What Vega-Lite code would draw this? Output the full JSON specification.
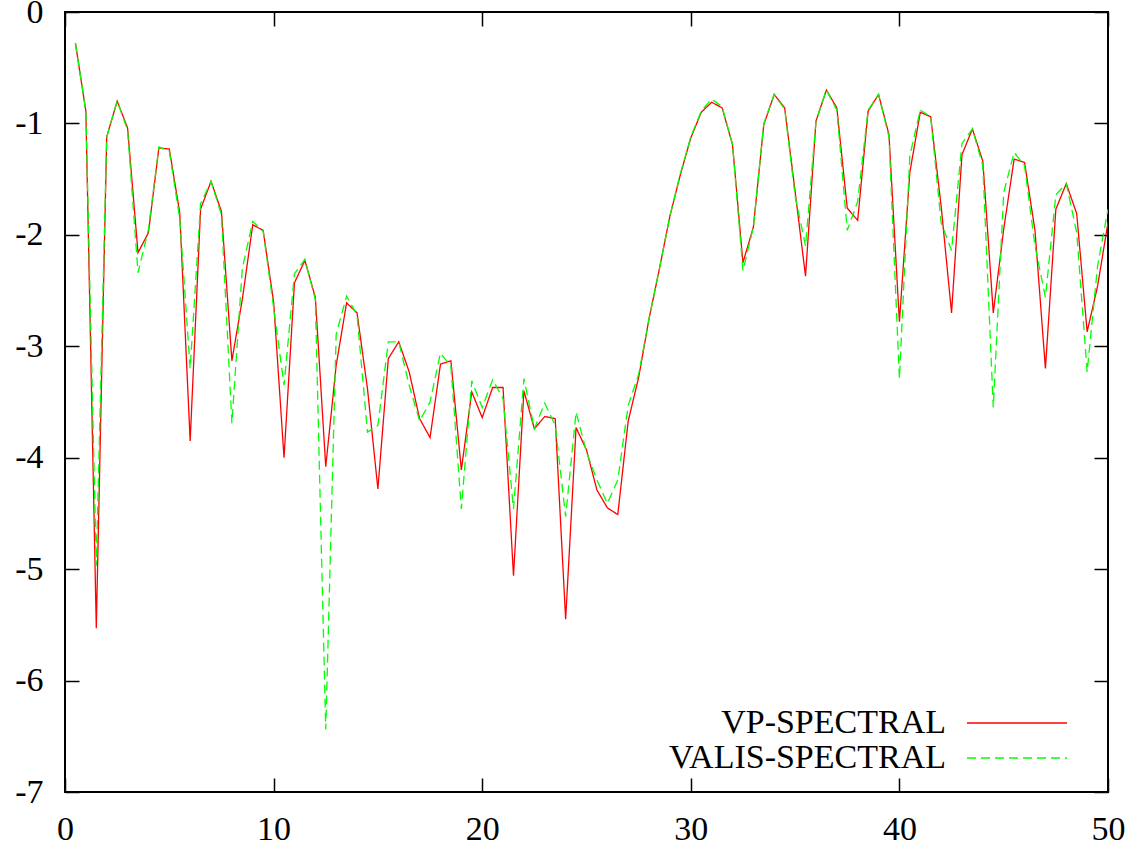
{
  "$schema": "https://vega.github.io/schema/vega-lite/v6.json",
  "width": 1043,
  "height": 780,
  "autosize": {"type": "none"},
  "padding": {"left": 65, "top": 12, "right": 39, "bottom": 58},
  "background": "white",
  "config": {
    "view": {"stroke": "black", "strokeWidth": 2},
    "font": "Liberation Serif",
    "axis": {
      "domain": false,
      "grid": false,
      "tickSize": -14,
      "tickColor": "black",
      "tickWidth": 1.5,
      "labelFont": "Liberation Serif",
      "labelFontSize": 34,
      "labelColor": "black",
      "labelFlush": false,
      "labelOverlap": false,
      "labelExpr": "toString(datum.value)"
    },
    "legend": {
      "orient": "none",
      "legendX": 935,
      "legendY": 694,
      "direction": "vertical",
      "symbolType": "M-5,0H5",
      "symbolSize": 400,
      "symbolStrokeWidth": 1.3,
      "labelFont": "Liberation Serif",
      "labelFontSize": 34,
      "labelColor": "black",
      "labelAlign": "right",
      "labelOffset": -88,
      "labelLimit": 400,
      "rowPadding": 1,
      "padding": 0
    }
  },
  "data": {
    "values": [
      {"x": 0.5, "VP-SPECTRAL": -0.28, "VALIS-SPECTRAL": -0.28},
      {"x": 1.0, "VP-SPECTRAL": -0.89, "VALIS-SPECTRAL": -0.89},
      {"x": 1.5, "VP-SPECTRAL": -5.53, "VALIS-SPECTRAL": -4.97},
      {"x": 2.0, "VP-SPECTRAL": -1.12, "VALIS-SPECTRAL": -1.12},
      {"x": 2.5, "VP-SPECTRAL": -0.80, "VALIS-SPECTRAL": -0.80},
      {"x": 3.0, "VP-SPECTRAL": -1.04, "VALIS-SPECTRAL": -1.06},
      {"x": 3.5, "VP-SPECTRAL": -2.16, "VALIS-SPECTRAL": -2.34},
      {"x": 4.0, "VP-SPECTRAL": -1.98, "VALIS-SPECTRAL": -1.95},
      {"x": 4.5, "VP-SPECTRAL": -1.22, "VALIS-SPECTRAL": -1.21},
      {"x": 5.0, "VP-SPECTRAL": -1.23, "VALIS-SPECTRAL": -1.25},
      {"x": 5.5, "VP-SPECTRAL": -1.80, "VALIS-SPECTRAL": -1.85},
      {"x": 6.0, "VP-SPECTRAL": -3.85, "VALIS-SPECTRAL": -3.20},
      {"x": 6.5, "VP-SPECTRAL": -1.77, "VALIS-SPECTRAL": -1.72},
      {"x": 7.0, "VP-SPECTRAL": -1.52, "VALIS-SPECTRAL": -1.52},
      {"x": 7.5, "VP-SPECTRAL": -1.79, "VALIS-SPECTRAL": -1.82},
      {"x": 8.0, "VP-SPECTRAL": -3.13, "VALIS-SPECTRAL": -3.69},
      {"x": 8.5, "VP-SPECTRAL": -2.58, "VALIS-SPECTRAL": -2.30},
      {"x": 9.0, "VP-SPECTRAL": -1.91, "VALIS-SPECTRAL": -1.88},
      {"x": 9.5, "VP-SPECTRAL": -1.96, "VALIS-SPECTRAL": -1.97},
      {"x": 10.0, "VP-SPECTRAL": -2.60, "VALIS-SPECTRAL": -2.65},
      {"x": 10.5, "VP-SPECTRAL": -4.00, "VALIS-SPECTRAL": -3.35},
      {"x": 11.0, "VP-SPECTRAL": -2.43, "VALIS-SPECTRAL": -2.35},
      {"x": 11.5, "VP-SPECTRAL": -2.23, "VALIS-SPECTRAL": -2.22},
      {"x": 12.0, "VP-SPECTRAL": -2.56, "VALIS-SPECTRAL": -2.58},
      {"x": 12.5, "VP-SPECTRAL": -4.08, "VALIS-SPECTRAL": -6.44},
      {"x": 13.0, "VP-SPECTRAL": -3.17, "VALIS-SPECTRAL": -2.89},
      {"x": 13.5, "VP-SPECTRAL": -2.61, "VALIS-SPECTRAL": -2.55},
      {"x": 14.0, "VP-SPECTRAL": -2.70, "VALIS-SPECTRAL": -2.72},
      {"x": 14.5, "VP-SPECTRAL": -3.38, "VALIS-SPECTRAL": -3.77},
      {"x": 15.0, "VP-SPECTRAL": -4.28, "VALIS-SPECTRAL": -3.71},
      {"x": 15.5, "VP-SPECTRAL": -3.11, "VALIS-SPECTRAL": -2.96},
      {"x": 16.0, "VP-SPECTRAL": -2.96, "VALIS-SPECTRAL": -2.96},
      {"x": 16.5, "VP-SPECTRAL": -3.23, "VALIS-SPECTRAL": -3.35},
      {"x": 17.0, "VP-SPECTRAL": -3.65, "VALIS-SPECTRAL": -3.67},
      {"x": 17.5, "VP-SPECTRAL": -3.82, "VALIS-SPECTRAL": -3.50},
      {"x": 18.0, "VP-SPECTRAL": -3.16, "VALIS-SPECTRAL": -3.06},
      {"x": 18.5, "VP-SPECTRAL": -3.13, "VALIS-SPECTRAL": -3.18},
      {"x": 19.0, "VP-SPECTRAL": -4.11, "VALIS-SPECTRAL": -4.46},
      {"x": 19.5, "VP-SPECTRAL": -3.41, "VALIS-SPECTRAL": -3.31},
      {"x": 20.0, "VP-SPECTRAL": -3.64, "VALIS-SPECTRAL": -3.55},
      {"x": 20.5, "VP-SPECTRAL": -3.37, "VALIS-SPECTRAL": -3.30},
      {"x": 21.0, "VP-SPECTRAL": -3.37, "VALIS-SPECTRAL": -3.47},
      {"x": 21.5, "VP-SPECTRAL": -5.06, "VALIS-SPECTRAL": -4.46},
      {"x": 22.0, "VP-SPECTRAL": -3.40, "VALIS-SPECTRAL": -3.29},
      {"x": 22.5, "VP-SPECTRAL": -3.74, "VALIS-SPECTRAL": -3.74},
      {"x": 23.0, "VP-SPECTRAL": -3.63, "VALIS-SPECTRAL": -3.51},
      {"x": 23.5, "VP-SPECTRAL": -3.65, "VALIS-SPECTRAL": -3.71},
      {"x": 24.0, "VP-SPECTRAL": -5.45, "VALIS-SPECTRAL": -4.53},
      {"x": 24.5, "VP-SPECTRAL": -3.73, "VALIS-SPECTRAL": -3.59},
      {"x": 25.0, "VP-SPECTRAL": -3.93, "VALIS-SPECTRAL": -3.95},
      {"x": 25.5, "VP-SPECTRAL": -4.29, "VALIS-SPECTRAL": -4.20},
      {"x": 26.0, "VP-SPECTRAL": -4.45, "VALIS-SPECTRAL": -4.41},
      {"x": 26.5, "VP-SPECTRAL": -4.51, "VALIS-SPECTRAL": -4.20},
      {"x": 27.0, "VP-SPECTRAL": -3.67, "VALIS-SPECTRAL": -3.53},
      {"x": 27.5, "VP-SPECTRAL": -3.28, "VALIS-SPECTRAL": -3.25},
      {"x": 28.0, "VP-SPECTRAL": -2.75, "VALIS-SPECTRAL": -2.75},
      {"x": 28.5, "VP-SPECTRAL": -2.30, "VALIS-SPECTRAL": -2.30},
      {"x": 29.0, "VP-SPECTRAL": -1.83, "VALIS-SPECTRAL": -1.83},
      {"x": 29.5, "VP-SPECTRAL": -1.46, "VALIS-SPECTRAL": -1.45},
      {"x": 30.0, "VP-SPECTRAL": -1.13, "VALIS-SPECTRAL": -1.12},
      {"x": 30.5, "VP-SPECTRAL": -0.90, "VALIS-SPECTRAL": -0.89},
      {"x": 31.0, "VP-SPECTRAL": -0.81, "VALIS-SPECTRAL": -0.78},
      {"x": 31.5, "VP-SPECTRAL": -0.86, "VALIS-SPECTRAL": -0.85},
      {"x": 32.0, "VP-SPECTRAL": -1.19, "VALIS-SPECTRAL": -1.19},
      {"x": 32.5, "VP-SPECTRAL": -2.25, "VALIS-SPECTRAL": -2.32},
      {"x": 33.0, "VP-SPECTRAL": -1.93, "VALIS-SPECTRAL": -1.93},
      {"x": 33.5, "VP-SPECTRAL": -1.01, "VALIS-SPECTRAL": -1.00},
      {"x": 34.0, "VP-SPECTRAL": -0.74, "VALIS-SPECTRAL": -0.74},
      {"x": 34.5, "VP-SPECTRAL": -0.86, "VALIS-SPECTRAL": -0.87},
      {"x": 35.0, "VP-SPECTRAL": -1.61, "VALIS-SPECTRAL": -1.65},
      {"x": 35.5, "VP-SPECTRAL": -2.37, "VALIS-SPECTRAL": -2.10},
      {"x": 36.0, "VP-SPECTRAL": -0.98, "VALIS-SPECTRAL": -0.98},
      {"x": 36.5, "VP-SPECTRAL": -0.70, "VALIS-SPECTRAL": -0.70},
      {"x": 37.0, "VP-SPECTRAL": -0.86, "VALIS-SPECTRAL": -0.88},
      {"x": 37.5, "VP-SPECTRAL": -1.76, "VALIS-SPECTRAL": -1.96},
      {"x": 38.0, "VP-SPECTRAL": -1.87, "VALIS-SPECTRAL": -1.70},
      {"x": 38.5, "VP-SPECTRAL": -0.89, "VALIS-SPECTRAL": -0.88},
      {"x": 39.0, "VP-SPECTRAL": -0.74, "VALIS-SPECTRAL": -0.74},
      {"x": 39.5, "VP-SPECTRAL": -1.10, "VALIS-SPECTRAL": -1.12},
      {"x": 40.0, "VP-SPECTRAL": -2.78, "VALIS-SPECTRAL": -3.29},
      {"x": 40.5, "VP-SPECTRAL": -1.44, "VALIS-SPECTRAL": -1.29},
      {"x": 41.0, "VP-SPECTRAL": -0.90, "VALIS-SPECTRAL": -0.88},
      {"x": 41.5, "VP-SPECTRAL": -0.94, "VALIS-SPECTRAL": -0.94},
      {"x": 42.0, "VP-SPECTRAL": -1.74, "VALIS-SPECTRAL": -1.89},
      {"x": 42.5, "VP-SPECTRAL": -2.70, "VALIS-SPECTRAL": -2.14},
      {"x": 43.0, "VP-SPECTRAL": -1.28, "VALIS-SPECTRAL": -1.18},
      {"x": 43.5, "VP-SPECTRAL": -1.05, "VALIS-SPECTRAL": -1.05},
      {"x": 44.0, "VP-SPECTRAL": -1.34, "VALIS-SPECTRAL": -1.38},
      {"x": 44.5, "VP-SPECTRAL": -2.70, "VALIS-SPECTRAL": -3.55},
      {"x": 45.0, "VP-SPECTRAL": -1.95, "VALIS-SPECTRAL": -1.62},
      {"x": 45.5, "VP-SPECTRAL": -1.32, "VALIS-SPECTRAL": -1.26},
      {"x": 46.0, "VP-SPECTRAL": -1.35, "VALIS-SPECTRAL": -1.38},
      {"x": 46.5, "VP-SPECTRAL": -1.96, "VALIS-SPECTRAL": -2.10},
      {"x": 47.0, "VP-SPECTRAL": -3.20, "VALIS-SPECTRAL": -2.56},
      {"x": 47.5, "VP-SPECTRAL": -1.77, "VALIS-SPECTRAL": -1.64},
      {"x": 48.0, "VP-SPECTRAL": -1.54, "VALIS-SPECTRAL": -1.54},
      {"x": 48.5, "VP-SPECTRAL": -1.81, "VALIS-SPECTRAL": -1.98},
      {"x": 49.0, "VP-SPECTRAL": -2.87, "VALIS-SPECTRAL": -3.23},
      {"x": 49.5, "VP-SPECTRAL": -2.46, "VALIS-SPECTRAL": -2.28},
      {"x": 50.0, "VP-SPECTRAL": -1.89, "VALIS-SPECTRAL": -1.77}
    ]
  },
  "transform": [
    {"fold": ["VP-SPECTRAL", "VALIS-SPECTRAL"], "as": ["series", "value"]}
  ],
  "layer": [
    {
      "mark": {"type": "line", "strokeWidth": 1.3, "clip": true},
      "encoding": {
        "x": {
          "field": "x", "type": "quantitative",
          "scale": {"domain": [0, 50], "nice": false, "zero": false},
          "axis": {"title": null, "values": [0, 10, 20, 30, 40, 50], "labelPadding": 34}
        },
        "y": {
          "field": "value", "type": "quantitative",
          "scale": {"domain": [-7, 0], "nice": false, "zero": false},
          "axis": {"title": null, "values": [-7, -6, -5, -4, -3, -2, -1, 0], "labelPadding": 36}
        },
        "color": {
          "field": "series", "type": "nominal",
          "scale": {"domain": ["VP-SPECTRAL", "VALIS-SPECTRAL"], "range": ["#ff0000", "#00ff00"]},
          "legend": {"title": null}
        },
        "strokeDash": {
          "field": "series", "type": "nominal",
          "scale": {"domain": ["VP-SPECTRAL", "VALIS-SPECTRAL"], "range": [[1, 0], [9, 5]]},
          "legend": {"title": null}
        }
      }
    },
    {
      "mark": {"type": "point", "opacity": 0},
      "encoding": {
        "x": {
          "field": "x", "type": "quantitative",
          "scale": {"domain": [0, 50], "nice": false, "zero": false},
          "axis": {"title": null, "orient": "top", "values": [0, 10, 20, 30, 40, 50], "labels": false}
        },
        "y": {
          "field": "value", "type": "quantitative",
          "scale": {"domain": [-7, 0], "nice": false, "zero": false},
          "axis": {"title": null, "orient": "right", "values": [-7, -6, -5, -4, -3, -2, -1, 0], "labels": false}
        }
      }
    }
  ],
  "resolve": {"axis": {"x": "independent", "y": "independent"}}
}
